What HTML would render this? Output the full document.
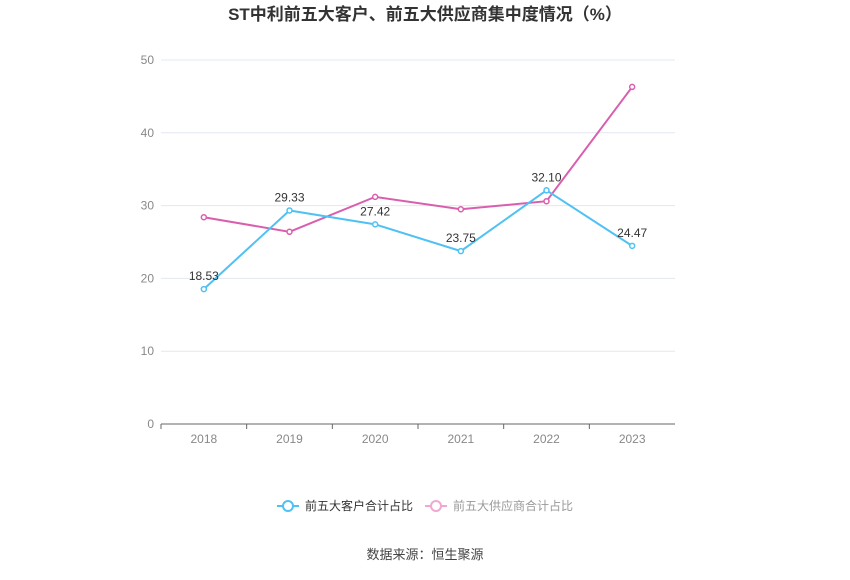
<!DOCTYPE html>
<html><head><meta charset="utf-8"><style>
body{margin:0;background:#fff;font-family:"Liberation Sans","Noto Sans CJK SC",sans-serif;}
</style></head><body>
<svg id="chart" width="850" height="575" xmlns="http://www.w3.org/2000/svg">
<text x="425" y="20" text-anchor="middle" font-size="17" font-weight="bold" fill="#333" font-family="Liberation Sans,Noto Sans CJK SC,sans-serif">ST中利前五大客户、前五大供应商集中度情况（%）</text>
<g id="grid"></g><g id="axes"></g><g id="series"></g>
<g>
<line x1="277" y1="506" x2="299" y2="506" stroke="#4fc1f3" stroke-width="2"/>
<circle cx="288" cy="506" r="5" fill="#fff" stroke="#4fc1f3" stroke-width="2"/>
<text x="305" y="510" font-size="12" fill="#333">前五大客户合计占比</text>
<line x1="425" y1="506" x2="447" y2="506" stroke="#f0a8d0" stroke-width="2"/>
<circle cx="436" cy="506" r="5" fill="#fff" stroke="#f0a8d0" stroke-width="2"/>
<text x="453" y="510" font-size="12" fill="#999">前五大供应商合计占比</text>
</g>
<text x="425" y="559" text-anchor="middle" font-size="13" fill="#444">数据来源：恒生聚源</text>
</svg>
<script>
const categories=["2018","2019","2020","2021","2022","2023"];
const customers=[18.53,29.33,27.42,23.75,32.10,24.47];
const suppliers=[28.4,26.4,31.2,29.5,30.6,46.3];
const yTicks=[0,10,20,30,40,50];
const NS="http://www.w3.org/2000/svg";
const x0=161,x1=675,y0=424,y1=60,yMax=50;
const bw=(x1-x0)/categories.length;
const xs=i=>x0+bw*(i+0.5);
const ys=v=>y0-(v/yMax)*(y0-y1);
function mk(t,a,p){const e=document.createElementNS(NS,t);for(const k in a)e.setAttribute(k,a[k]);p.appendChild(e);return e;}
const grid=document.getElementById('grid'),axes=document.getElementById('axes'),ser=document.getElementById('series');
yTicks.forEach(v=>{
 const l=mk('line',{x1:x0,x2:x1,y1:ys(v),y2:ys(v),stroke:v===0?'#666':'#e3e8f0','stroke-width':1},grid);
 
 
 const t=mk('text',{x:x0-7,y:ys(v)+4,'text-anchor':'end','font-size':12,fill:'#888'},axes);
 t.textContent=v;
 
 
});
categories.forEach((c,i)=>{
 const k=mk('line',{x1:x0+bw*i,x2:x0+bw*i,y1:y0,y2:y0+5,stroke:'#666'},axes);
 
 
 const t=mk('text',{x:xs(i),y:y0+19,'text-anchor':'middle','font-size':12,fill:'#888'},axes);
 t.textContent=c;
 
 
});
function draw(vals,color,name,labels){
 const p=mk('polyline',{points:vals.map((v,i)=>xs(i)+','+ys(v)).join(' '),fill:'none',stroke:color,'stroke-width':2},ser);
 
 
 vals.forEach((v,i)=>{
  const c=mk('circle',{cx:xs(i),cy:ys(v),r:2.5,fill:'#fff',stroke:color,'stroke-width':1.5},ser);
  
  
  if(labels){
   const t=mk('text',{x:xs(i),y:ys(v)-9,'text-anchor':'middle','font-size':12,fill:'#333'},ser);
   t.textContent=v.toFixed(2);
   
   
  }
 });
}
draw(suppliers,'#d95fae','suppliers',false);
draw(customers,'#4fc1f3','customers',true);
</script>
</body></html>
